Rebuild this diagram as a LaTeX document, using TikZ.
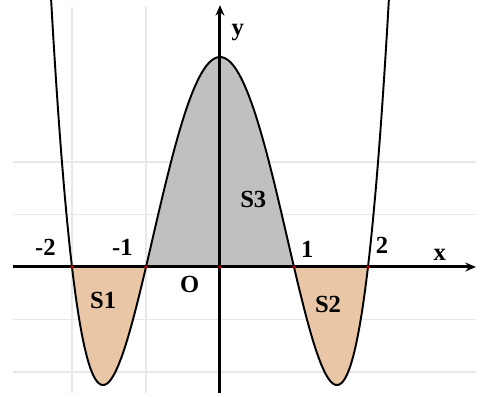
\documentclass[tikz,border=0pt]{standalone}
\usepackage{tikz}
\usetikzlibrary{arrows.meta}
\usepackage{xcolor}
\usepackage{fontspec}
\setmainfont{Liberation Serif}
\definecolor{shadegray}{HTML}{C0C0C0}
\definecolor{shadetan}{HTML}{E8C6A6}
\definecolor{gridgray}{HTML}{E8E8E8}

\begin{document}
\begin{tikzpicture}[x=1.48cm,y=1.05cm,
      lbl/.style={font=\fontsize{14}{16}\selectfont\bfseries,inner sep=0pt},
      curve/.style={line width=1.1pt,smooth,samples=120},
      axis/.style={line width=1.7pt,-{Stealth[length=6pt,width=5pt]}}]
    \useasboundingbox (-2.973,-2.476) rectangle (3.541,5.086);
    % grid
    \foreach \gy in {-2,-1,1,2}
      \draw[gridgray,line width=0.6pt] (-2.797,\gy) -- (3.459,\gy);
    \foreach \gx in {-2,-1}
      \draw[gridgray,line width=0.6pt] (\gx,-2.4) -- (\gx,4.95);
    % shaded areas
    \fill[shadegray] plot[curve,domain=-1:1] (\x,{(\x)^4-5*(\x)^2+4}) -- cycle;
    \fill[shadetan] plot[curve,domain=-2:-1] (\x,{(\x)^4-5*(\x)^2+4}) -- cycle;
    \fill[shadetan] plot[curve,domain=1:2] (\x,{(\x)^4-5*(\x)^2+4}) -- cycle;
    % axes
    \coordinate (xl) at (-2.797,0);
    \coordinate (xr) at (3.459,0);
    \coordinate (yb) at (0,-2.4);
    \coordinate (yt) at (0,4.99);
    \draw[axis] (xl) -- (xr);
    \draw[axis] (yb) -- (yt);
    % graph
    \draw[curve,domain=-2.3:2.3] plot (\x,{(\x)^4-5*(\x)^2+4});
    \foreach \px in {-2,-1,0,1,2}
      \fill[red!70!black] (\px,0) circle (1.1pt);
    % labels
    \node[lbl] (lx) at (2.97,0.24) {x};
    \node[lbl] (ly) at (0.24,4.46) {y};
    \node[lbl] (lo) at (-0.41,-0.34) {O};
    \node[lbl] (lm2) at (-2.36,0.38) {-2};
    \node[lbl] (lm1) at (-1.32,0.38) {-1};
    \node[lbl] (l1) at (1.18,0.33) {1};
    \node[lbl] (l2) at (2.19,0.41) {2};
    \node[lbl] (s1) at (-1.58,-0.63) {S1};
    \node[lbl] (s2) at (1.46,-0.72) {S2};
    \node[lbl] (s3) at (0.45,1.28) {S3};
  \end{tikzpicture}
\end{document}
